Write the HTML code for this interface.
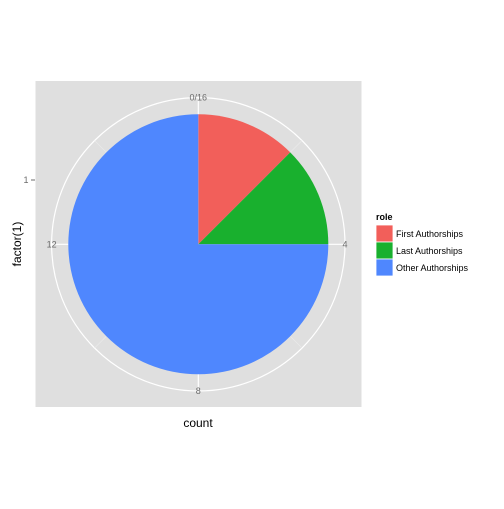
<!DOCTYPE html>
<html><head><meta charset="utf-8"><style>
body{margin:0;background:#fff;font-family:"Liberation Sans",sans-serif}
</style></head><body>
<svg width="504" height="504" xmlns="http://www.w3.org/2000/svg" font-family="Liberation Sans, sans-serif">
<rect x="35.5" y="81" width="326" height="326" fill="#dfdfdf"/>
<g id="grid"></g>
<g id="slices"></g>
<g id="ticklabels" font-size="9" fill="#6b6b6b"></g>
<text x="26" y="183" font-size="9" fill="#6b6b6b" text-anchor="middle">1</text>
<line x1="31" y1="180" x2="35" y2="180" stroke="#6b6b6b"/>
<text x="21" y="244" font-size="12" text-anchor="middle" transform="rotate(-90 21 244)">factor(1)</text>
<text x="198" y="427" font-size="12" text-anchor="middle">count</text>
<g id="legend">
<text x="376" y="220" font-size="9" font-weight="bold">role</text>
</g>
<script>
const categories=["First Authorships","Last Authorships","Other Authorships"];
const counts=[2,2,12];
const colors=["#f25f5a","#19b02e","#4f87fe"];
const tickLabels=["0/16","4","8","12"];
const tickValues=[0,4,8,12];
const NS="http://www.w3.org/2000/svg";
const cx=198.3,cy=244.3,R=130,RO=146.7;
const total=counts.reduce((a,b)=>a+b,0);
function ang(v){return v/total*2*Math.PI;}
function pt(v,r){const a=ang(v);return [cx+r*Math.sin(a),cy-r*Math.cos(a)];}
const grid=document.getElementById('grid');
const c=document.createElementNS(NS,'circle');
c.setAttribute('cx',cx);c.setAttribute('cy',cy);c.setAttribute('r',RO);
c.setAttribute('fill','none');c.setAttribute('stroke','#fff');c.setAttribute('stroke-width','1.2');


grid.appendChild(c);
for(let i=0;i<8;i++){
 const v=i*total/8;const p=pt(v,RO);
 const l=document.createElementNS(NS,'line');
 l.setAttribute('x1',cx);l.setAttribute('y1',cy);l.setAttribute('x2',p[0]);l.setAttribute('y2',p[1]);
 l.setAttribute('stroke', i%2? '#ececec':'#fff');l.setAttribute('stroke-width',i%2?'0.6':'1.2');
 
 
 grid.appendChild(l);
}
const sl=document.getElementById('slices');
let cum=0;
counts.forEach((v,i)=>{
 const a=pt(cum,R),b=pt(cum+v,R);const large=v/total>0.5?1:0;
 const p=document.createElementNS(NS,'path');
 p.setAttribute('d',`M${cx},${cy}L${a[0]},${a[1]}A${R},${R} 0 ${large} 1 ${b[0]},${b[1]}Z`);
 p.setAttribute('fill',colors[i]);
 
 
 sl.appendChild(p);cum+=v;
});
const tl=document.getElementById('ticklabels');
tickValues.forEach((v,i)=>{
 const p=pt(v,RO);
 const t=document.createElementNS(NS,'text');
 t.setAttribute('x',p[0]);t.setAttribute('y',p[1]+3);t.setAttribute('text-anchor','middle');
 t.textContent=tickLabels[i];
 
 
 tl.appendChild(t);
});
const lg=document.getElementById('legend');
categories.forEach((n,i)=>{
 const y=225+i*17;
 const r=document.createElementNS(NS,'rect');
 r.setAttribute('x',376);r.setAttribute('y',y);r.setAttribute('width',17);r.setAttribute('height',17);
 r.setAttribute('fill',colors[i]);r.setAttribute('stroke','#fff');r.setAttribute('stroke-width','0.8');
 
 
 lg.appendChild(r);
 const t=document.createElementNS(NS,'text');
 t.setAttribute('x',396);t.setAttribute('y',y+12);t.setAttribute('font-size','9');
 t.textContent=n;
 
 
 lg.appendChild(t);
});
</script>
</svg>
</body></html>
